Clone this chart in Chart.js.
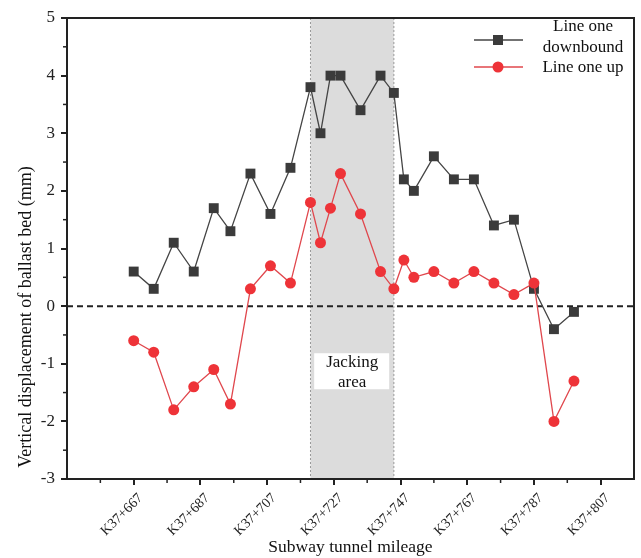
<!DOCTYPE html>
<html>
<head>
<meta charset="utf-8">
<script src="https://cdn.jsdelivr.net/npm/chart.js@4.4.1/dist/chart.umd.min.js"></script>
<style>
  html, body { margin: 0; padding: 0; background: #fff; }
  #wrap { width: 641px; height: 558px; }
</style>
</head>
<body>
<div id="wrap"><canvas id="chart" width="641" height="558"></canvas></div>
<script>
// mileage along the tunnel (K37+...)
const mileage = [667, 673, 679, 685, 691, 696, 702, 708, 714, 720, 723, 726, 729,
                 735, 741, 745, 748, 751, 757, 763, 769, 775, 781, 787, 793, 799];
const downbound = [0.6, 0.3, 1.1, 0.6, 1.7, 1.3, 2.3, 1.6, 2.4, 3.8, 3.0, 4.0, 4.0,
                   3.4, 4.0, 3.7, 2.2, 2.0, 2.6, 2.2, 2.2, 1.4, 1.5, 0.3, -0.4, -0.1];
const up = [-0.6, -0.8, -1.8, -1.4, -1.1, -1.7, 0.3, 0.7, 0.4, 1.8, 1.1, 1.7, 2.3,
            1.6, 0.6, 0.3, 0.8, 0.5, 0.6, 0.4, 0.6, 0.4, 0.2, 0.4, -2.0, -1.3];

const xTickValues = [667, 687, 707, 727, 747, 767, 787, 807];
const xTickLabels = ['K37+667', 'K37+687', 'K37+707', 'K37+727', 'K37+747', 'K37+767', 'K37+787', 'K37+807'];
const jackingStart = 720;
const jackingEnd = 745;

const serif = '"Liberation Serif", "Times New Roman", serif';

const toPoints = vals => vals.map((v, i) => ({ x: mileage[i], y: v }));

// shaded jacking zone, zero line, minor ticks, frame, legend, y title
const decor = {
  id: 'decor',
  beforeDatasetsDraw(chart) {
    const { ctx, chartArea: a, scales: { x, y } } = chart;
    const x0 = x.getPixelForValue(jackingStart);
    const x1 = x.getPixelForValue(jackingEnd);
    ctx.save();
    ctx.fillStyle = '#dcdcdc';
    ctx.fillRect(x0, a.top, x1 - x0, a.bottom - a.top);
    ctx.strokeStyle = '#9a9a9a';
    ctx.lineWidth = 1;
    ctx.setLineDash([2, 2]);
    [x0, x1].forEach(px => {
      ctx.beginPath();
      ctx.moveTo(px, a.top);
      ctx.lineTo(px, a.bottom);
      ctx.stroke();
    });

    // text box
    const cx = (x0 + x1) / 2;
    const cy = y.getPixelForValue(-1.13);
    ctx.setLineDash([]);
    ctx.fillStyle = '#fff';
    ctx.fillRect(cx - 38, cy - 18, 75, 36);
    ctx.fillStyle = '#111';
    ctx.font = '17px ' + serif;
    ctx.textAlign = 'center';
    ctx.textBaseline = 'middle';
    ctx.fillText('Jacking', cx, cy - 9);
    ctx.fillText('area', cx, cy + 11);

    // zero line
    const yz = y.getPixelForValue(0);
    ctx.strokeStyle = '#222';
    ctx.lineWidth = 2;
    ctx.setLineDash([6, 4]);
    ctx.beginPath();
    ctx.moveTo(a.left, yz);
    ctx.lineTo(a.right, yz);
    ctx.stroke();
    ctx.restore();
  },
  afterDraw(chart) {
    const { ctx, chartArea: a, scales: { x, y } } = chart;
    ctx.save();
    ctx.strokeStyle = '#222';
    ctx.lineWidth = 1.5;
    // minor ticks
    for (let v = 657; v < 817; v += 20) {
      const px = x.getPixelForValue(v);
      ctx.beginPath();
      ctx.moveTo(px, a.bottom);
      ctx.lineTo(px, a.bottom + 4);
      ctx.stroke();
    }
    for (let v = -2.5; v < 5; v += 1) {
      const py = y.getPixelForValue(v);
      ctx.beginPath();
      ctx.moveTo(a.left, py);
      ctx.lineTo(a.left - 4, py);
      ctx.stroke();
    }
    // frame
    ctx.lineWidth = 2;
    ctx.strokeRect(a.left, a.top, a.right - a.left, a.bottom - a.top);

    // legend
    const lx0 = 474, lx1 = 523, mx = 498;
    ctx.lineWidth = 1.3;
    ctx.strokeStyle = '#444';
    ctx.beginPath(); ctx.moveTo(lx0, 40); ctx.lineTo(lx1, 40); ctx.stroke();
    ctx.fillStyle = '#3b3b3b';
    ctx.fillRect(mx - 5, 35, 10, 10);
    ctx.strokeStyle = '#e0474d';
    ctx.beginPath(); ctx.moveTo(lx0, 67); ctx.lineTo(lx1, 67); ctx.stroke();
    ctx.fillStyle = '#ee3338';
    ctx.beginPath(); ctx.arc(mx, 67, 5.5, 0, Math.PI * 2); ctx.fill();

    ctx.fillStyle = '#111';
    ctx.font = '17px ' + serif;
    ctx.textAlign = 'center';
    ctx.textBaseline = 'middle';
    ctx.fillText('Line one', 583, 27);
    ctx.fillText('downbound', 583, 48);
    ctx.fillText('Line one up', 583, 68);

    // y axis title, sits a bit below the plot centre like the original
    ctx.translate(26, 317);
    ctx.rotate(-Math.PI / 2);
    ctx.font = '18px ' + serif;
    ctx.fillText('Vertical displacement of ballast bed (mm)', 0, 0);
    ctx.restore();
  }
};

new Chart(document.getElementById('chart'), {
  type: 'line',
  data: {
    datasets: [
      {
        label: 'Line one downbound',
        data: toPoints(downbound),
        borderColor: '#444',
        borderWidth: 1.3,
        pointStyle: 'rect',
        pointRadius: 7,
        pointBackgroundColor: '#3b3b3b',
        pointBorderWidth: 0,
        order: 1
      },
      {
        label: 'Line one up',
        data: toPoints(up),
        borderColor: '#e0474d',
        borderWidth: 1.3,
        pointStyle: 'circle',
        pointRadius: 5.5,
        pointBackgroundColor: '#ee3338',
        pointBorderWidth: 0,
        order: 0
      }
    ]
  },
  options: {
    responsive: false,
    animation: false,
    layout: { padding: { top: 18, right: 4, left: 0, bottom: 0 } },
    plugins: { legend: { display: false }, tooltip: { enabled: false } },
    scales: {
      x: {
        type: 'linear',
        min: 647,
        max: 817,
        afterBuildTicks: s => { s.ticks = xTickValues.map(v => ({ value: v })); },
        afterFit: s => { s.height = 79; },
        grid: { drawOnChartArea: false, tickLength: 6, lineWidth: 2, color: '#222' },
        border: { display: false },
        ticks: {
          autoSkip: false,
          minRotation: 45,
          maxRotation: 45,
          padding: 5,
          labelOffset: 7,
          color: '#222',
          font: { family: serif, size: 14 },
          callback: (v, i) => xTickLabels[i]
        },
        title: {
          display: true,
          text: 'Subway tunnel mileage',
          color: '#111',
          font: { family: serif, size: 17.5 },
          padding: { top: 0, bottom: 0 }
        }
      },
      y: {
        min: -3,
        max: 5,
        afterFit: s => { s.width = 67; },
        grid: { drawOnChartArea: false, tickLength: 6, lineWidth: 2, color: '#222' },
        border: { display: false },
        ticks: {
          stepSize: 1,
          padding: 6,
          color: '#222',
          font: { family: serif, size: 17 }
        }
      }
    }
  },
  plugins: [decor]
});
</script>
</body>
</html>
